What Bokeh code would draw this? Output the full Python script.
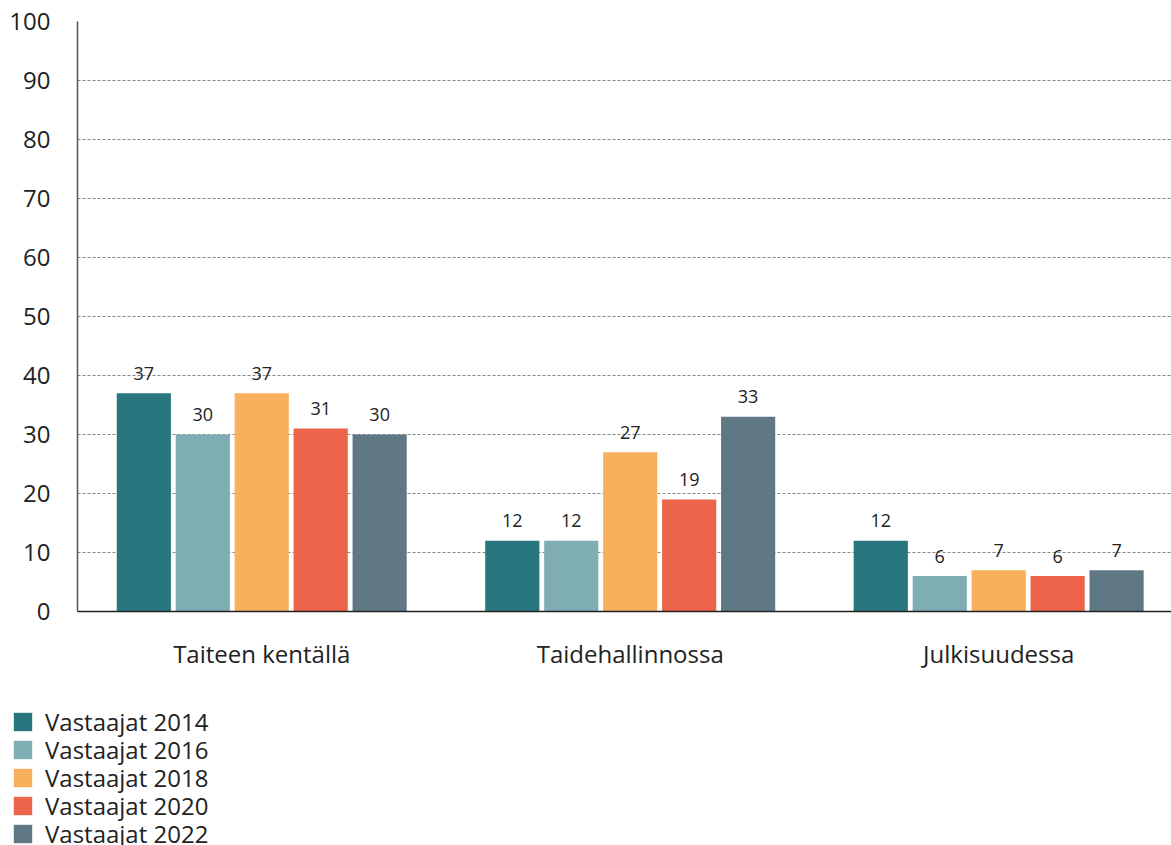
import numpy as np
from bokeh.plotting import figure
from bokeh.layouts import column
from bokeh.models import ColumnDataSource, Range1d, FixedTicker, Legend, LegendItem
from bokeh.transform import dodge
from bokeh.core.properties import value
from bokeh.embed import file_html
from bokeh.resources import INLINE

categories = ["Taiteen kentällä", "Taidehallinnossa", "Julkisuudessa"]
series_names = ["Vastaajat 2014", "Vastaajat 2016", "Vastaajat 2018", "Vastaajat 2020", "Vastaajat 2022"]
v2014 = [37, 12, 12]
v2016 = [30, 12, 6]
v2018 = [37, 27, 7]
v2020 = [31, 19, 6]
v2022 = [30, 33, 7]
colors = ["#2A767E", "#7FADB4", "#F8B05C", "#EC654B", "#607884"]
y_ticks = [0, 10, 20, 30, 40, 50, 60, 70, 80, 90, 100]

series_values = [v2014, v2016, v2018, v2020, v2022]
FONT = "Open Sans"

p = figure(width=1171, height=700, output_backend="svg", toolbar_location=None,
           x_range=Range1d(0, 2.969), y_range=Range1d(0, 100),
           min_border_left=77, min_border_right=0, min_border_top=21, min_border_bottom=89)
p.outline_line_color = None
p.background_fill_color = "white"

xpos = np.arange(len(categories)) + 0.5
offsets = [-0.32, -0.16, 0.0, 0.16, 0.32]

for name, vals, col, off in zip(series_names, series_values, colors, offsets):
    src = ColumnDataSource(dict(x=xpos, y=vals, lbl=[str(v) for v in vals]))
    p.vbar(x=dodge("x", off, range=p.x_range), top="y", bottom=0, width=0.147,
           source=src, fill_color=col, line_color=None)
    p.text(x=dodge("x", off, range=p.x_range), y="y", text="lbl", source=src,
           text_align="center", text_baseline="middle", y_offset=-20,
           text_font=value(FONT), text_font_size="18px", text_color="#222222")

# axes
p.xaxis.ticker = FixedTicker(ticks=list(xpos))
p.xaxis.major_label_overrides = {float(x): c for x, c in zip(xpos, categories)}
p.xaxis.major_tick_line_color = None
p.xaxis.major_tick_out = 0
p.xaxis.major_tick_in = 0
p.xaxis.minor_tick_line_color = None
p.xaxis.axis_line_color = "#222222"
p.xaxis.axis_line_width = 1.5
p.xaxis.major_label_standoff = 25
p.xaxis.major_label_text_font = FONT
p.xaxis.major_label_text_font_size = "24px"
p.xaxis.major_label_text_color = "#222222"

p.yaxis.ticker = FixedTicker(ticks=y_ticks)
p.yaxis.major_tick_line_color = None
p.yaxis.major_tick_out = 0
p.yaxis.major_tick_in = 0
p.yaxis.minor_tick_line_color = None
p.yaxis.axis_line_color = "#555555"
p.yaxis.axis_line_width = 1.5
p.yaxis.major_label_standoff = 27
p.yaxis.major_label_text_font = FONT
p.yaxis.major_label_text_font_size = "24px"
p.yaxis.major_label_text_color = "#222222"

p.xgrid.grid_line_color = None
p.ygrid.grid_line_color = "#888888"
p.ygrid.grid_line_dash = "3 2"
p.ygrid.grid_line_width = 1

# legend panel (separate figure below the chart)
LEG_H = 145
lf = figure(width=1171, height=LEG_H, output_backend="svg", toolbar_location=None,
            x_range=Range1d(0, 1), y_range=Range1d(0, 1),
            x_axis_location=None, y_axis_location=None,
            min_border_left=0, min_border_right=0, min_border_top=0, min_border_bottom=0)
lf.outline_line_color = None
lf.xgrid.grid_line_color = None
lf.ygrid.grid_line_color = None
if "frame_align" in lf.properties():
    lf.frame_align = False
    p.frame_align = False

ITEM_H = 33
for i, (name, col) in enumerate(zip(series_names, colors)):
    # legend swatch source: a bar placed outside the visible range
    holder = ColumnDataSource(dict(x=[5.0], y=[5.0]))
    r = lf.vbar(x="x", top="y", width=0.1, source=holder, fill_color=col, line_color=None)
    top_px = 5 + 28 * i
    leg = Legend(items=[LegendItem(label=name, renderers=[r])],
                 location=(11, LEG_H - top_px - ITEM_H), orientation="vertical",
                 glyph_width=23, glyph_height=23, label_standoff=11, spacing=0,
                 padding=0, margin=0, border_line_color=None, background_fill_alpha=0,
                 label_text_font=FONT, label_text_font_size="24px", label_text_color="#222222")
    lf.add_layout(leg, "center")

layout = column(p, lf, spacing=0)
open("out.html", "w").write(file_html(layout, INLINE))
